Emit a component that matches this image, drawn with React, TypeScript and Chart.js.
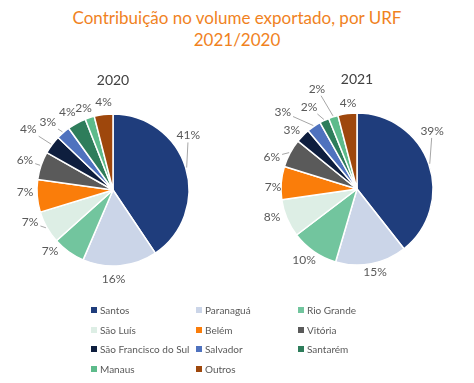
import React, { useEffect, useRef } from "react";
import { Chart, registerables } from "chart.js";
Chart.register(...registerables);

const titleLines = ["Contribuição no volume exportado, por URF", "2021/2020"];
const categories = [
  "Santos", "Paranaguá", "Rio Grande", "São Luís", "Belém", "Vitória",
  "São Francisco do Sul", "Salvador", "Santarém", "Manaus", "Outros",
];
const years = ["2020", "2021"];
const values2020 = [41, 16, 7, 7, 7, 6, 4, 3, 4, 2, 4];
const values2021 = [39, 15, 10, 8, 7, 6, 3, 3, 2, 2, 4];

const colors = [
  "#1F3D7C", "#CBD5E8", "#72C59E", "#DDEEE5", "#FA7D0A", "#5A5A5A",
  "#0E1E3E", "#4F72BE", "#2E7D5B", "#5DBB8B", "#9E470C",
];

// label placement (style): angular shift in degrees, radial distance in px, leader line
const labelShift2020 = [-19, 5, 10, 8, 3, 0, -1, -3, -2, -2, 1];
const labelDist2020 = [93, 89, 88, 89, 88, 93, 104, 94, 90, 87, 88];
const leader2020 = [true, false, false, true, false, true, true, true, false, false, false];
const labelShift2021 = [-18.6, -1.3, 2, 4.5, -3, -7.6, -2.3, -9.4, -4.8, -3.6, 1.3];
const labelDist2021 = [95, 85, 89, 89.5, 84, 91, 88, 107, 95, 108, 86.5];
const leader2021 = [true, false, false, false, false, true, false, true, true, true, false];

const FONT = "Lato, 'Open Sans', sans-serif";

function makeLabelPlugin(year: string, shifts: number[], dists: number[], leaders: boolean[]) {
  return {
    id: "pieLabels" + year,
    afterDatasetsDraw(chart: any) {
      const ctx = chart.ctx;
      const meta = chart.getDatasetMeta(0);
      const data = chart.data.datasets[0].data as number[];
      ctx.save();
      // year title
      const first = meta.data[0];
      ctx.font = `14px ${FONT}`;
      ctx.fillStyle = "#404040";
      ctx.textAlign = "center";
      ctx.textBaseline = "middle";
      ctx.fillText(year, first.x, first.y - 110);
      ctx.font = `12px ${FONT}`;
      meta.data.forEach((arc: any, i: number) => {
        const mid = (arc.startAngle + arc.endAngle) / 2;
        const ang = mid + (shifts[i] * Math.PI) / 180;
        const lx = arc.x + dists[i] * Math.cos(ang);
        const ly = arc.y + dists[i] * Math.sin(ang);
        const txt = data[i] + "%";
        ctx.fillStyle = "#595959";
        ctx.fillText(txt, lx, ly);
        if (leaders[i]) {
          const ax = arc.x + (arc.outerRadius + 1) * Math.cos(mid);
          const ay = arc.y + (arc.outerRadius + 1) * Math.sin(mid);
          const dx = ax - lx;
          const dy = ay - ly;
          const hw = ctx.measureText(txt).width / 2 + 2;
          const hh = 7;
          const t = Math.min(
            Math.abs(dx) > 0.001 ? hw / Math.abs(dx) : 1e9,
            Math.abs(dy) > 0.001 ? hh / Math.abs(dy) : 1e9
          );
          if (t < 1) {
            ctx.strokeStyle = "#A6A6A6";
            ctx.lineWidth = 1;
            ctx.beginPath();
            ctx.moveTo(lx + dx * t, ly + dy * t);
            ctx.lineTo(ax, ay);
            ctx.stroke();
          }
        }
      });
      ctx.restore();
    },
  };
}

function PieCanvas(props: {
  values: number[];
  year: string;
  shifts: number[];
  dists: number[];
  leaders: boolean[];
  style: React.CSSProperties;
  width: number;
  height: number;
}) {
  const ref = useRef<HTMLCanvasElement>(null);
  useEffect(() => {
    if (!ref.current) return;
    const chart = new Chart(ref.current, {
      type: "pie",
      data: {
        labels: categories,
        datasets: [
          {
            data: props.values,
            backgroundColor: colors,
            borderColor: "#FFFFFF",
            borderWidth: 1.5,
            radius: 76,
          } as any,
        ],
      },
      options: {
        responsive: false,
        maintainAspectRatio: false,
        animation: false,
        layout: { padding: 0 },
        plugins: { legend: { display: false }, tooltip: { enabled: false }, title: { display: false } },
      },
      plugins: [makeLabelPlugin(props.year, props.shifts, props.dists, props.leaders)],
    });
    return () => chart.destroy();
  }, []);
  return (
    <canvas
      ref={ref}
      width={props.width}
      height={props.height}
      style={{ position: "absolute", width: props.width, height: props.height, ...props.style }}
    />
  );
}

export default function App() {
  const colLeft = [91, 196, 298];
  return (
    <div
      style={{
        position: "absolute",
        left: 0,
        top: 0,
        width: 474,
        height: 383,
        background: "#FFFFFF",
        overflow: "hidden",
        fontFamily: FONT,
      }}
    >
      <div
        style={{
          position: "absolute",
          left: 0,
          top: 7,
          width: 474,
          textAlign: "center",
          color: "#F0821E",
          fontSize: 17,
          lineHeight: "22px",
        }}
      >
        {titleLines.map((l, i) => (
          <div key={i}>{l}</div>
        ))}
      </div>
      <PieCanvas
        values={values2020}
        year={years[0]}
        shifts={labelShift2020}
        dists={labelDist2020}
        leaders={leader2020}
        width={226}
        height={240}
        style={{ left: 0, top: 70 }}
      />
      <PieCanvas
        values={values2021}
        year={years[1]}
        shifts={labelShift2021}
        dists={labelDist2021}
        leaders={leader2021}
        width={220}
        height={240}
        style={{ left: 247, top: 69 }}
      />
      {categories.map((c, i) => {
        const row = Math.floor(i / 3);
        const col = i % 3;
        return (
          <div
            key={c}
            style={{
              position: "absolute",
              left: colLeft[col],
              top: 310 + row * 19.5 - 7,
              height: 14,
              display: "flex",
              alignItems: "center",
              fontSize: 10,
              color: "#595959",
              whiteSpace: "nowrap",
            }}
          >
            <span style={{ display: "inline-block", width: 6, height: 6, background: colors[i], marginRight: 3 }} />
            <span>{c}</span>
          </div>
        );
      })}
    </div>
  );
}
